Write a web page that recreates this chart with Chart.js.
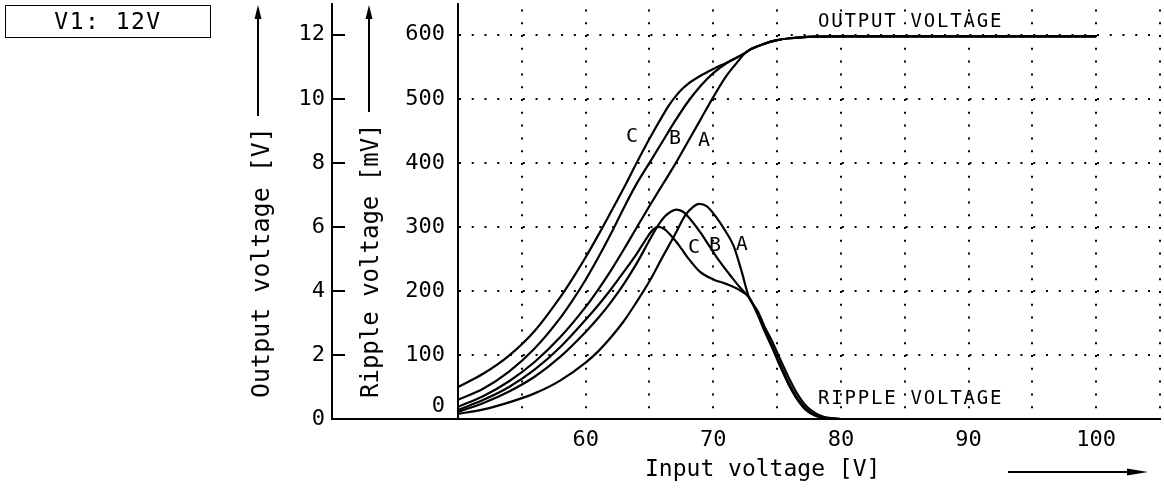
<!DOCTYPE html>
<html>
<head>
<meta charset="utf-8">
<script src="https://cdn.jsdelivr.net/npm/chart.js@4.4.1/dist/chart.umd.min.js"></script>
<style>
  body { margin: 0; background: #fff; }
  #wrap { position: relative; width: 1164px; height: 488px; }
  #v1 {
    position: absolute; left: 5px; top: 5px; width: 204px; height: 31px;
    border: 1.5px solid #000; font: 23px "DejaVu Sans Mono", monospace;
    text-align: center; line-height: 31px; letter-spacing: 1.5px; color: #000;
  }
</style>
</head>
<body>
<div id="wrap">
  <canvas id="chart" width="1164" height="488"></canvas>
  <div id="v1">V1: 12V</div>
</div>
<script>
const FONT = '"DejaVu Sans Mono", monospace';

// tick labels
const xTickLabels = [60, 70, 80, 90, 100];

// output voltage [V] vs input voltage [V]
const outputA = [[50,0.38],[52,0.72],[54,1.18],[56,1.78],[58,2.55],[60,3.5],[61,4.05],[62,4.65],[63,5.3],[64,5.98],[65,6.65],[66,7.3],[67,7.95],[68,8.65],[69,9.35],[70,10.05],[71,10.7],[72,11.2],[72.5,11.43],[73,11.56],[74,11.72],[75,11.83],[76,11.89],[78,11.94],[80,11.95],[90,11.95],[100,11.95]];
const outputB = [[50,0.6],[52,0.95],[54,1.48],[56,2.2],[58,3.15],[59,3.72],[60,4.35],[61,5.05],[62,5.8],[63,6.6],[64,7.35],[65,8.0],[66,8.65],[67,9.3],[68,9.9],[69,10.4],[70,10.8],[71,11.1],[72,11.32],[72.5,11.43],[73,11.56],[74,11.72],[75,11.83],[76,11.89],[78,11.94],[80,11.95],[90,11.95],[100,11.95]];
const outputC = [[50,1.0],[52,1.42],[54,1.98],[56,2.75],[58,3.8],[59,4.4],[60,5.05],[61,5.75],[62,6.48],[63,7.22],[64,8.0],[65,8.75],[66,9.45],[66.5,9.78],[67,10.05],[67.5,10.28],[68,10.46],[69,10.72],[70,10.93],[71,11.12],[72,11.32],[72.5,11.43],[73,11.56],[74,11.72],[75,11.83],[76,11.89],[78,11.94],[80,11.95],[90,11.95],[100,11.95]];

// ripple voltage [mV] vs input voltage [V]
const rippleA = [[50,8],[52,15],[54,26],[56,40],[58,60],[60,88],[61,106],[62,128],[63,153],[64,183],[65,215],[66,252],[67,288],[67.8,318],[68.4,331],[68.9,336],[69.5,332],[70.2,316],[71,292],[71.6,270],[72.2,232],[72.8,190],[73.5,168],[74,145],[74.6,122],[75.2,95],[75.9,65],[76.5,42],[77.2,22],[78,9],[78.7,3],[79.5,1],[80,0],[90,0],[100,0]];
const rippleB = [[50,11],[52,25],[54,43],[56,66],[58,97],[60,136],[61,158],[62,183],[63,211],[64,243],[65,279],[65.6,300],[66.2,316],[66.7,324],[67.1,327],[67.6,324],[68.2,312],[69,291],[69.7,270],[70.5,246],[71.5,220],[72.2,203],[72.8,190],[73.5,164],[74,140],[74.6,115],[75.2,87],[75.9,57],[76.5,35],[77.2,17],[78,6],[78.7,2],[79.5,0.5],[80,0],[90,0],[100,0]];
const rippleC = [[50,14],[52,30],[54,50],[56,77],[58,112],[60,155],[61,178],[62,203],[63,230],[64,258],[64.8,283],[65.3,296],[65.7,300],[66.2,296],[67,279],[67.5,266],[68,252],[68.9,231],[70,218],[71,211],[72,202],[72.8,190],[73.5,162],[74,138],[74.6,112],[75.2,84],[75.9,54],[76.5,33],[77.2,15],[78,5],[78.7,1.5],[79.5,0.3],[80,0],[90,0],[100,0]];

// curve letters, placed in data coordinates
const outputLetters = [['C',63.64,8.81],['B',67.0,8.75],['A',69.27,8.69]];
const rippleLetters = [['C',68.49,267],['B',70.13,270],['A',72.24,272]];

const toXY = pts => pts.map(p => ({ x: p[0], y: p[1] }));

const line = (label, pts, axis) => ({
  label, data: toXY(pts), yAxisID: axis,
  borderColor: '#000', borderWidth: 2.2, pointRadius: 0, fill: false,
  cubicInterpolationMode: 'monotone'
});

// no extra room for half labels at the ends of the axes
const fixSize = (w, h) => s => {
  if (w !== null) s.width = w;
  if (h !== null) s.height = h;
  s.paddingTop = 0; s.paddingBottom = 0; s.paddingLeft = 0; s.paddingRight = 0;
};

const decor = {
  id: 'decor',
  afterDraw(chart) {
    const { ctx, chartArea: a, scales } = chart;
    const x = scales.x, yO = scales.yOut, yR = scales.yRip;
    ctx.save();
    ctx.strokeStyle = '#000';
    ctx.fillStyle = '#000';
    ctx.lineWidth = 2;

    // bottom line continues to the outer axis
    ctx.beginPath();
    ctx.moveTo(yO.right - 1, a.bottom);
    ctx.lineTo(a.left, a.bottom);
    ctx.stroke();

    const upArrow = (px, from, tip) => {
      ctx.beginPath();
      ctx.moveTo(px, from);
      ctx.lineTo(px, tip + 10);
      ctx.stroke();
      ctx.beginPath();
      ctx.moveTo(px, tip);
      ctx.lineTo(px - 3.5, tip + 14);
      ctx.lineTo(px + 3.5, tip + 14);
      ctx.closePath();
      ctx.fill();
    };
    const vText = (txt, px, bottom) => {
      ctx.save();
      ctx.translate(px, bottom);
      ctx.rotate(-Math.PI / 2);
      ctx.textAlign = 'left';
      ctx.textBaseline = 'middle';
      ctx.fillText(txt, 0, 0);
      ctx.restore();
    };

    ctx.font = '25px ' + FONT;
    vText('Output voltage [V]', 262, 398);
    upArrow(258, 116, 5);
    ctx.font = '24px ' + FONT;
    vText('Ripple voltage [mV]', 372, 398);
    upArrow(369, 112, 5);

    ctx.font = '23px ' + FONT;
    ctx.textAlign = 'left';
    ctx.textBaseline = 'middle';
    ctx.fillText('Input voltage [V]', 645, 470);
    ctx.beginPath();
    ctx.moveTo(1008, 472);
    ctx.lineTo(1132, 472);
    ctx.stroke();
    ctx.beginPath();
    ctx.moveTo(1148, 472);
    ctx.lineTo(1127, 468.5);
    ctx.lineTo(1127, 475.5);
    ctx.closePath();
    ctx.fill();

    ctx.font = '19px ' + FONT;
    ctx.letterSpacing = '1.8px';
    ctx.fillText('OUTPUT VOLTAGE', x.getPixelForValue(78.2), yO.getPixelForValue(12.4));
    ctx.fillText('RIPPLE VOLTAGE', x.getPixelForValue(78.2), yR.getPixelForValue(31));
    ctx.letterSpacing = '0px';

    ctx.font = '20px ' + FONT;
    ctx.textAlign = 'center';
    outputLetters.forEach(([t, vx, vy]) => ctx.fillText(t, x.getPixelForValue(vx), yO.getPixelForValue(vy)));
    rippleLetters.forEach(([t, vx, vy]) => ctx.fillText(t, x.getPixelForValue(vx), yR.getPixelForValue(vy)));
    ctx.restore();
  }
};

new Chart(document.getElementById('chart').getContext('2d'), {
  type: 'line',
  data: {
    datasets: [
      line('Output A', outputA, 'yOut'),
      line('Output B', outputB, 'yOut'),
      line('Output C', outputC, 'yOut'),
      line('Ripple A', rippleA, 'yRip'),
      line('Ripple B', rippleB, 'yRip'),
      line('Ripple C', rippleC, 'yRip')
    ]
  },
  options: {
    responsive: false,
    animation: false,
    parsing: false,
    layout: { padding: { top: 4, right: 4, left: 0, bottom: 0 } },
    plugins: { legend: { display: false }, tooltip: { enabled: false } },
    scales: {
      x: {
        type: 'linear', min: 50, max: 105,
        afterFit: fixSize(null, 69),
        border: { color: '#000', width: 2, dash: [2, 10.8], dashOffset: 7.4 },
        grid: { color: '#000', lineWidth: 2, drawTicks: false },
        ticks: {
          stepSize: 5, autoSkip: false, maxRotation: 0, padding: 8, color: '#000',
          font: { family: FONT, size: 22 },
          callback: v => xTickLabels.includes(v) ? String(v) : ''
        }
      },
      yOut: {
        type: 'linear', position: 'left', weight: 2, min: 0, max: 12.96,
        afterFit: fixSize(332, null),
        border: { color: '#000', width: 2 },
        grid: { drawOnChartArea: false, drawTicks: true, tickLength: -13, color: '#000', lineWidth: 2 },
        ticks: { stepSize: 2, includeBounds: false, padding: 20, color: '#000', font: { family: FONT, size: 22 } }
      },
      yRip: {
        type: 'linear', position: 'left', weight: 1, min: 0, max: 648,
        afterFit: fixSize(126, null),
        border: { color: '#000', width: 2, dash: [2, 10.76] },
        grid: { color: '#000', lineWidth: 2, drawTicks: false },
        ticks: {
          stepSize: 100, includeBounds: false, padding: 13, color: '#000',
          font: { family: FONT, size: 22 },
          callback: v => v === 0 ? ['0', ''] : String(v)
        }
      }
    }
  },
  plugins: [decor]
});
</script>
</body>
</html>
